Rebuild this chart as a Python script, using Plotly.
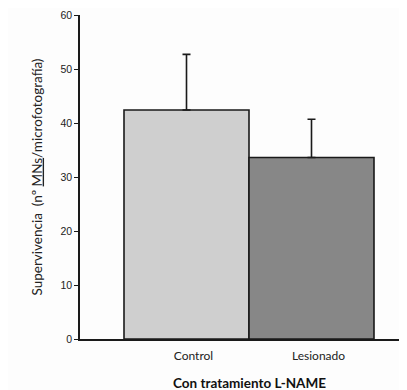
import plotly.graph_objects as go

categories = ["Control", "Lesionado"]
means = [42.4, 33.6]
errors_up = [10.3, 7.1]
bar_colors = ["#cfcfcf", "#878787"]
y_ticks = [0, 10, 20, 30, 40, 50, 60]
x_title = "Con tratamiento L-NAME"
y_title = "Supervivencia  (nº <u>MNs</u>/microfotografía)"

fig = go.Figure()
fig.add_trace(go.Bar(
    x=list(range(len(categories))),
    y=means,
    width=1.0,
    marker=dict(color=bar_colors, line=dict(color="#1a1a1a", width=1.6)),
    error_y=dict(type="data", array=errors_up, arrayminus=[0] * len(means),
                 symmetric=False, color="#1a1a1a", thickness=1.6, width=4),
    showlegend=False,
))

fig.update_layout(
    width=399, height=382,
    margin=dict(l=72, r=2, t=7, b=51),
    paper_bgcolor="#fdfdfd", plot_bgcolor="#fdfdfd",
    font=dict(family="Lato, Liberation Sans, sans-serif", color="#222"),
    xaxis=dict(
        range=[-0.852, 1.748],
        tickvals=list(range(len(categories))), ticktext=categories,
        showline=True, linecolor="#1a1a1a", linewidth=1.6,
        ticks="", showgrid=False, zeroline=False,
        tickfont=dict(size=12, family="Lato, sans-serif", color="#222"),
        ticklabelshift=7, ticklabelstandoff=5,
    ),
    yaxis=dict(
        range=[0, 60], tickvals=y_ticks,
        showline=True, linecolor="#1a1a1a", linewidth=1.6,
        ticks="outside", ticklen=4, tickwidth=1.4, tickcolor="#1a1a1a",
        showgrid=False, zeroline=False,
        tickfont=dict(size=10.5, family="Liberation Sans, Arial, sans-serif", color="#222"),
        title=dict(text=y_title, font=dict(size=13.5, family="Lato, sans-serif", color="#222"),
                   standoff=15),
    ),
    annotations=[dict(
        text="<b>" + x_title + "</b>", x=0.5, xref="x", y=-0.136, yref="paper",
        showarrow=False, xanchor="center", yanchor="middle",
        font=dict(size=13.5, family="Lato, sans-serif", color="#111"),
    )],
)

fig.write_html("out.html")
